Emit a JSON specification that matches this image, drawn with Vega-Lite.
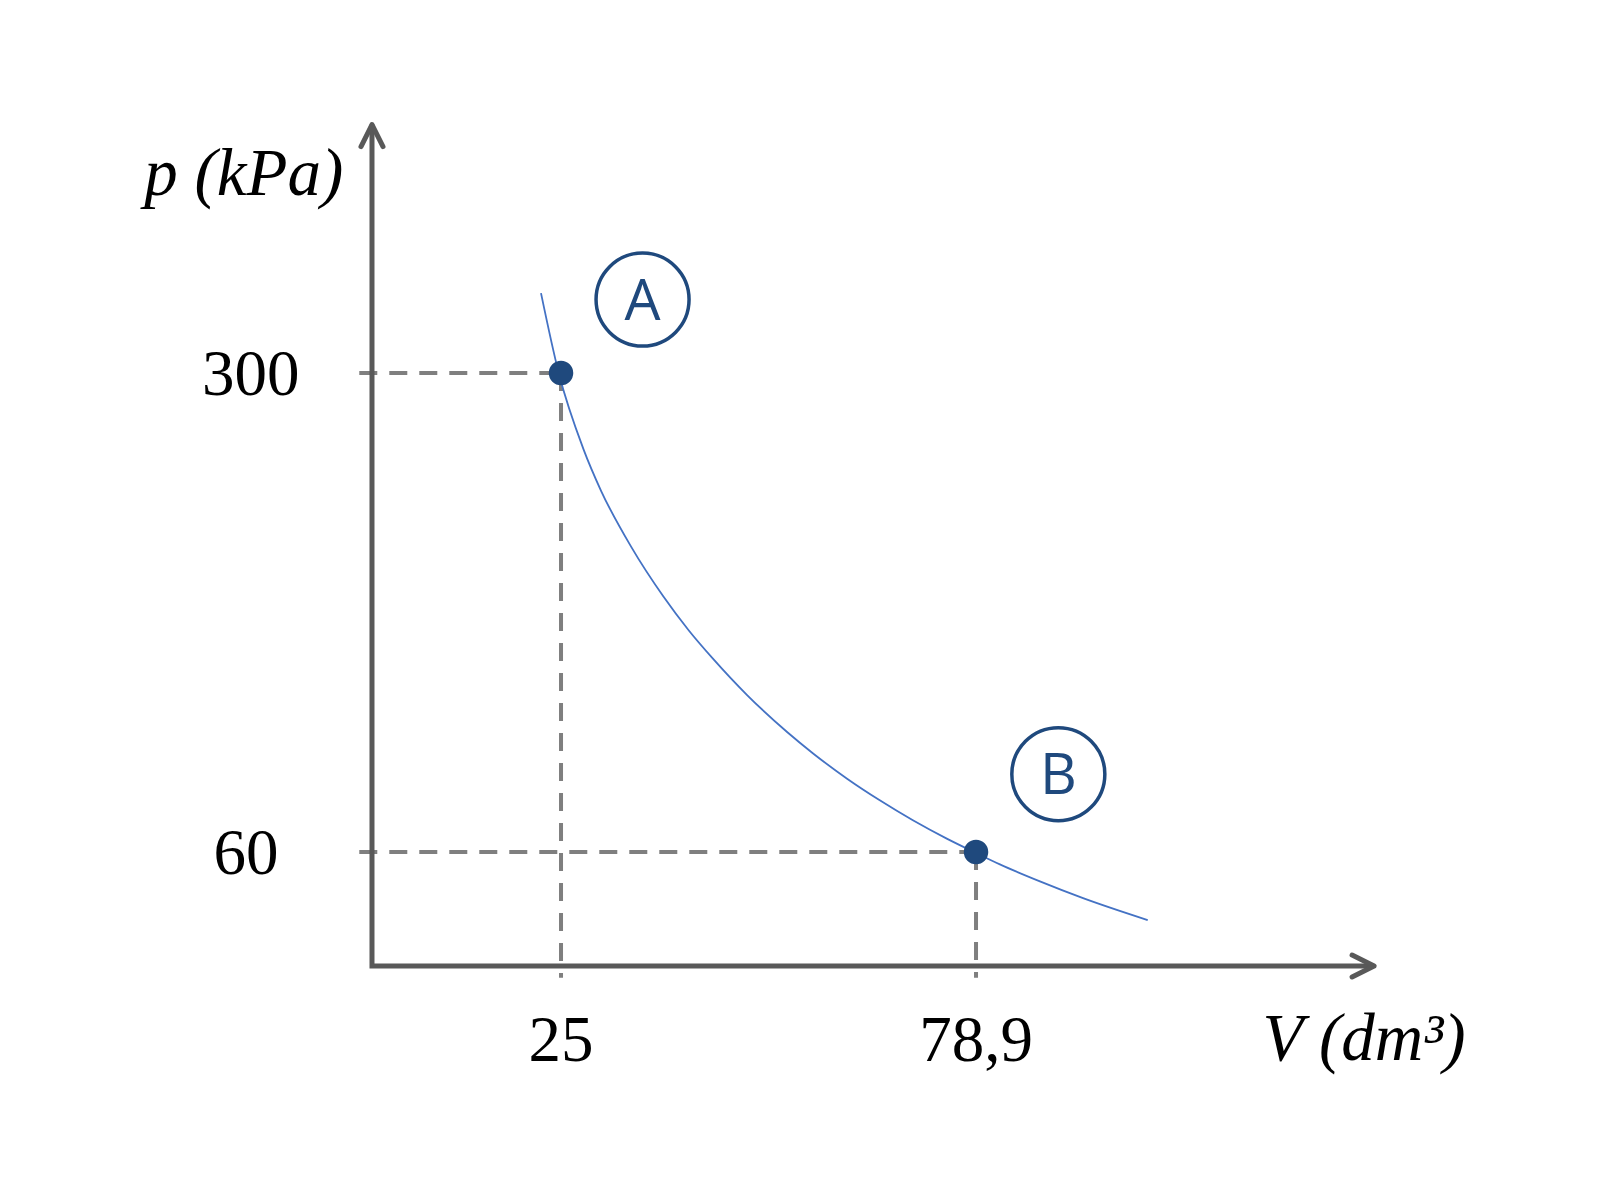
{
  "$schema": "https://vega.github.io/schema/vega-lite/v6.json",
  "width": 1600,
  "height": 1200,
  "padding": 0,
  "autosize": "none",
  "background": "white",
  "config": {"view": {"stroke": null}},
  "encoding": {
    "x": {"field": "V", "type": "quantitative", "axis": null,
          "scale": {"domain": [-47.863, 159.94], "nice": false, "zero": false}},
    "y": {"field": "p", "type": "quantitative", "axis": null,
          "scale": {"domain": [-114.36, 486.89], "nice": false, "zero": false}}
  },
  "layer": [
    {
      "data": {"values": [
        {"V": -1.2, "p": 300, "V2": 25, "p2": 300},
        {"V": -1.2, "p": 60, "V2": 78.9, "p2": 60},
        {"V": 25, "p": 300, "V2": 25, "p2": -3},
        {"V": 78.9, "p": 60, "V2": 78.9, "p2": -3}
      ]},
      "mark": {"type": "rule", "color": "#7f7f7f", "strokeWidth": 4, "strokeDash": [18, 12]},
      "encoding": {"x2": {"field": "V2"}, "y2": {"field": "p2"}}
    },
    {
      "data": {"values": [
        {"V": 0.45, "p": 424.5, "step": 1},
        {"V": 0.45, "p": 2.88, "step": 2},
        {"V": 130.6, "p": 2.88, "step": 3}
      ]},
      "mark": {"type": "line", "color": "#595959", "strokeWidth": 5, "strokeJoin": "miter", "strokeCap": "butt"},
      "encoding": {"order": {"field": "step", "type": "quantitative"}}
    },
    {
      "data": {"values": [{"V": 130.6, "p": 2.88}]},
      "mark": {"type": "point", "shape": "M-2,-1L0,0L-2,1", "size": 484, "filled": false,
               "stroke": "#595959", "strokeWidth": 5, "strokeJoin": "round", "strokeCap": "round", "opacity": 1, "angle": 0}
    },
    {
      "data": {"values": [{"V": 0.45, "p": 424.5}]},
      "mark": {"type": "point", "shape": "M-2,-1L0,0L-2,1", "size": 484, "filled": false,
               "stroke": "#595959", "strokeWidth": 5, "strokeJoin": "round", "strokeCap": "round", "opacity": 1, "angle": 270}
    },
    {
      "data": {"values": [
        {"V": 22.4, "p": 340},
        {"V": 24.7, "p": 300},
        {"V": 27.9, "p": 262},
        {"V": 30.2, "p": 241},
        {"V": 34.1, "p": 213},
        {"V": 38.3, "p": 188},
        {"V": 41.6, "p": 171},
        {"V": 44.7, "p": 157},
        {"V": 49.2, "p": 138.5},
        {"V": 54.4, "p": 120},
        {"V": 57.7, "p": 109.5},
        {"V": 62.2, "p": 96.6},
        {"V": 66.4, "p": 85.9},
        {"V": 70.7, "p": 75.9},
        {"V": 75.1, "p": 66.7},
        {"V": 78.9, "p": 59.5},
        {"V": 82.0, "p": 53.8},
        {"V": 87.2, "p": 45.3},
        {"V": 92.8, "p": 36.9},
        {"V": 101.2, "p": 25.9}
      ]},
      "mark": {"type": "line", "color": "#4472c4", "strokeWidth": 1.8, "interpolate": "monotone"}
    },
    {
      "data": {"values": [
        {"V": 25, "p": 300, "state": "A"},
        {"V": 78.9, "p": 60, "state": "B"}
      ]},
      "mark": {"type": "circle", "size": 600, "color": "#1f497d", "opacity": 1}
    },
    {
      "data": {"values": [
        {"V": 35.59, "p": 336.8, "state": "A"},
        {"V": 89.59, "p": 99.0, "state": "B"}
      ]},
      "layer": [
        {
          "mark": {"type": "point", "shape": "circle", "size": 8650, "filled": false,
                   "stroke": "#1f497d", "strokeWidth": 3.5, "opacity": 1}
        },
        {
          "mark": {"type": "text", "font": "Open Sans", "fontSize": 57, "color": "#1f497d",
                   "align": "center", "baseline": "middle", "dy": 3},
          "encoding": {"text": {"field": "state"}}
        }
      ]
    },
    {
      "data": {"values": [
        {"V": -15.3, "p": 300, "label": "300"},
        {"V": -15.9, "p": 60, "label": "60"},
        {"V": 25, "p": -33.7, "label": "25"},
        {"V": 78.9, "p": -33.7, "label": "78,9"}
      ]},
      "mark": {"type": "text", "font": "Liberation Serif", "fontSize": 65, "color": "black",
               "align": "center", "baseline": "middle", "dy": 2},
      "encoding": {"text": {"field": "label"}}
    },
    {
      "data": {"values": [
        {"V": -16.2, "p": 399.2, "label": "p (kPa)"},
        {"V": 129.3, "p": -34.2, "label": "V (dm³)"}
      ]},
      "mark": {"type": "text", "font": "Liberation Serif", "fontStyle": "italic", "fontSize": 67,
               "color": "black", "align": "center", "baseline": "middle"},
      "encoding": {"text": {"field": "label"}}
    }
  ]
}
